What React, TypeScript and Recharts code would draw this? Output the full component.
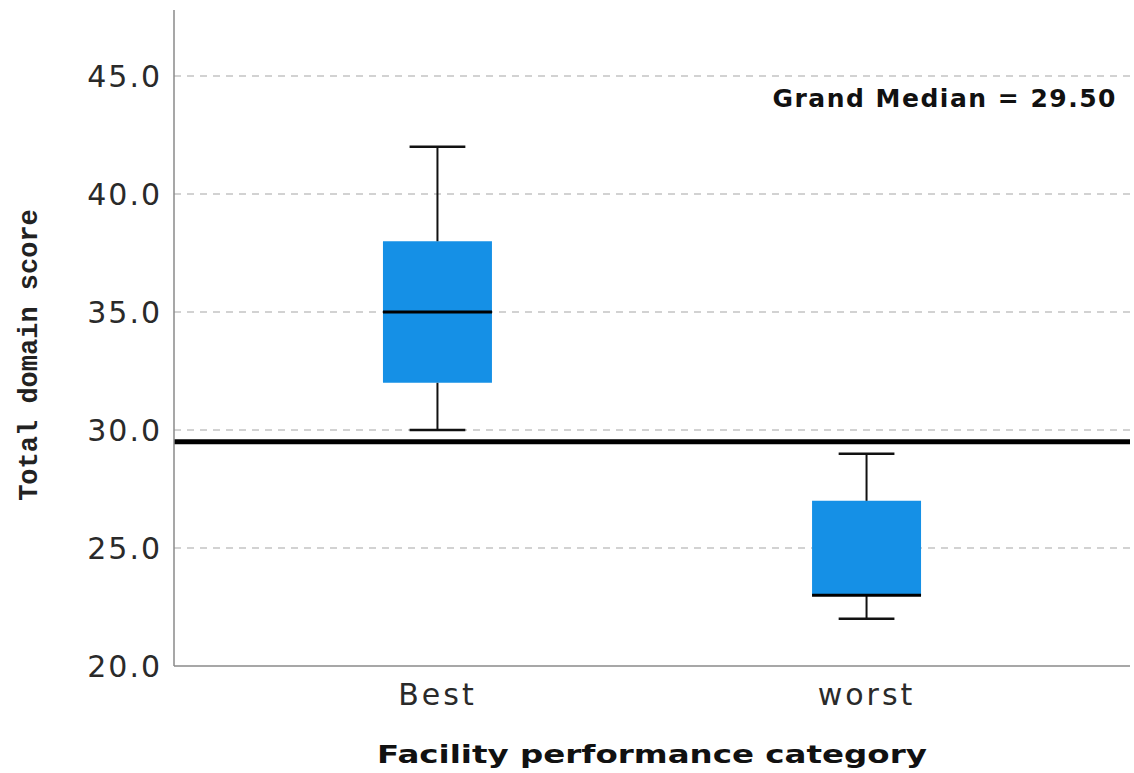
import {
  ComposedChart, Scatter, XAxis, YAxis, CartesianGrid,
  ReferenceArea, ReferenceLine, Customized
} from 'recharts';

// box plot stats
const categories = ['Best', 'worst'];
const mins = [30, 22];
const q1s = [32, 23];
const medians = [35, 23];
const q3s = [38, 27];
const maxs = [42, 29];
const grandMedian = 29.5;
const yTicks = [20, 25, 30, 35, 40, 45];

const BOX_COLOR = '#1590e6';
const BOX_HALF = 0.127; // half box width, in x units
const CAP_HALF = 0.065;

const rows = categories.map((name, i) => ({
  x: i + 1,
  name,
  min: mins[i],
  q1: q1s[i],
  median: medians[i],
  q3: q3s[i],
  max: maxs[i],
}));

const tickStyle = {
  fontFamily: 'DejaVu Sans',
  fontSize: 30,
  letterSpacing: 2,
  fill: '#2a2a2a',
};

const MedianMark = (props: any) => {
  const { cx, cy } = props;
  return <line x1={cx - 54.5} x2={cx + 54.5} y1={cy} y2={cy} stroke="#000" strokeWidth={3} />;
};

export default function App() {
  return (
    <div style={{ position: 'absolute', left: 0, top: 0, background: '#fff' }}>
      <ComposedChart
        width={1134}
        height={773}
        data={rows}
        margin={{ top: 10, right: 4, left: 0, bottom: 0 }}
      >
        <CartesianGrid
          vertical={false}
          horizontalValues={yTicks.filter((v) => v > 20)}
          stroke="#c4c4c4"
          strokeWidth={1.5}
          strokeDasharray="7 6"
        />
        <XAxis
          dataKey="x"
          type="number"
          domain={[0.386, 2.614]}
          ticks={[1, 2]}
          tickFormatter={(v: number) => categories[v - 1]}
          height={107}
          tickLine={false}
          tickMargin={12}
          axisLine={{ stroke: '#8a8a8a', strokeWidth: 1.5 }}
          tick={{ ...tickStyle, letterSpacing: 3 }}
          label={{
            content: (p: any) => {
              const cx = p.viewBox.x + p.viewBox.width / 2;
              const by = p.viewBox.y + 97;
              return (
                <text
                  x={0}
                  y={0}
                  transform={`translate(${cx}, ${by}) scale(1.3, 1)`}
                  textAnchor="middle"
                  fontFamily="DejaVu Sans"
                  fontWeight="bold"
                  fontSize={25}
                  fill="#111"
                >
                  Facility performance category
                </text>
              );
            },
          }}
        />
        <YAxis
          type="number"
          domain={[20, 47.8]}
          ticks={yTicks}
          allowDataOverflow
          width={174}
          tickLine={false}
          tickMargin={6}
          tickFormatter={(v: number) => v.toFixed(1)}
          axisLine={{ stroke: '#8a8a8a', strokeWidth: 1.5 }}
          tick={tickStyle}
          label={{
            content: () => (
              <text
                x={30}
                y={355}
                transform="rotate(-90, 30, 355)"
                textAnchor="middle"
                dominantBaseline="central"
                fontFamily="Liberation Mono"
                fontWeight="bold"
                fontSize={27}
                fill="#222"
              >
                Total domain score
              </text>
            ),
          }}
        />

        {rows.map((r) => (
          <ReferenceArea
            key={`box-${r.name}`}
            x1={r.x - BOX_HALF}
            x2={r.x + BOX_HALF}
            y1={r.q1}
            y2={r.q3}
            fill={BOX_COLOR}
            fillOpacity={1}
            stroke="none"
          />
        ))}

        {rows.flatMap((r) => [
          <ReferenceLine
            key={`wu-${r.name}`}
            segment={[{ x: r.x, y: r.q3 }, { x: r.x, y: r.max }]}
            stroke="#111"
            strokeWidth={2}
          />,
          <ReferenceLine
            key={`wl-${r.name}`}
            segment={[{ x: r.x, y: r.min }, { x: r.x, y: r.q1 }]}
            stroke="#111"
            strokeWidth={2}
          />,
          <ReferenceLine
            key={`cu-${r.name}`}
            segment={[{ x: r.x - CAP_HALF, y: r.max }, { x: r.x + CAP_HALF, y: r.max }]}
            stroke="#111"
            strokeWidth={2.5}
          />,
          <ReferenceLine
            key={`cl-${r.name}`}
            segment={[{ x: r.x - CAP_HALF, y: r.min }, { x: r.x + CAP_HALF, y: r.min }]}
            stroke="#111"
            strokeWidth={2.5}
          />,
        ])}

        <Scatter dataKey="median" shape={MedianMark} isAnimationActive={false} />

        <ReferenceLine y={grandMedian} stroke="#000" strokeWidth={5} />

        <Customized
          component={() => (
            <text
              x={1117}
              y={107}
              textAnchor="end"
              fontFamily="DejaVu Sans"
              fontWeight="bold"
              fontSize={25}
              letterSpacing={1.5}
              fill="#111"
            >
              Grand Median = 29.50
            </text>
          )}
        />
      </ComposedChart>
    </div>
  );
}
